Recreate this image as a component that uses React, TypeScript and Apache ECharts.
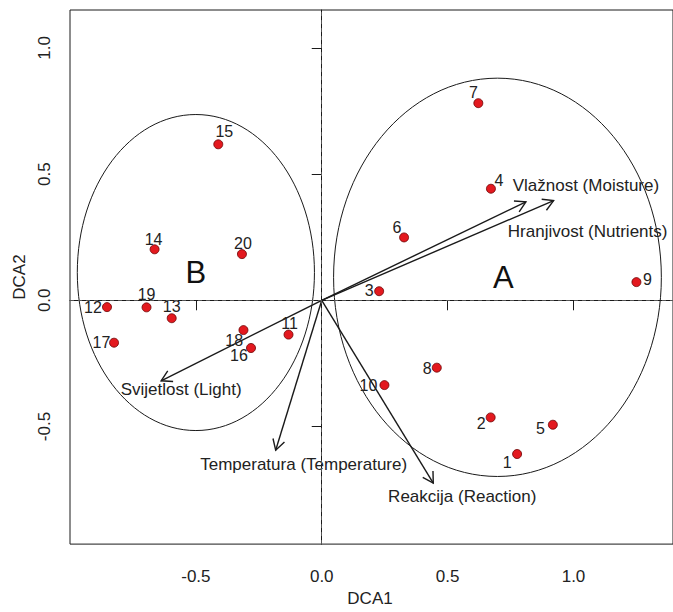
import React, { useEffect, useRef } from "react";
import * as echarts from "echarts";

// Site scores (DCA axes 1 and 2)
const sites = ["1", "2", "3", "4", "5", "6", "7", "8", "9", "10", "11", "12", "13", "14", "15", "16", "17", "18", "19", "20"];
const dca1 = [0.776, 0.671, 0.228, 0.672, 0.918, 0.327, 0.622, 0.457, 1.25, 0.249, -0.132, -0.853, -0.596, -0.664, -0.411, -0.281, -0.825, -0.311, -0.696, -0.317];
const dca2 = [-0.609, -0.464, 0.036, 0.442, -0.493, 0.249, 0.781, -0.267, 0.072, -0.336, -0.136, -0.027, -0.071, 0.202, 0.618, -0.189, -0.168, -0.118, -0.028, 0.183];

// Environmental vectors
const envNames = ["Vlažnost (Moisture)", "Hranjivost (Nutrients)", "Reakcija (Reaction)", "Temperatura (Temperature)", "Svijetlost (Light)"];
const envX = [0.811, 0.921, 0.443, -0.183, -0.638];
const envY = [0.39, 0.395, -0.724, -0.594, -0.319];

// Groups (ellipses)
const groups = ["A", "B"];
const groupCx = [0.698, -0.5];
const groupCy = [0.091, 0.11];
const groupRx = [0.651, 0.471];
const groupRy = [0.789, 0.626];

// Tick labels
const xTicks = [-0.5, 0, 0.5, 1.0];
const yTicks = [-0.5, 0, 0.5, 1.0];

// Layout (pixel offsets of labels)
const siteLabelOffsets: number[][] = [
  [-10, 8], [-9.5, 6], [-10, -1], [8, -8], [-12.5, 4], [-7, -10], [-5, -11], [-9.5, 0.5], [11, -3], [-16, 0.7],
  [1, -11], [-14, 0], [0, -11.7], [-1, -10], [6, -13], [-12, 7.6], [-12.6, 0], [-9.3, 10.6], [0, -12.4], [1, -11],
];
const envLabelOffsets: number[][] = [[60, -16], [34, 31], [29, 13], [28, 14], [20, 9]];
const groupLetterOffsets: number[][] = [[6, 0], [0, 0]];

const FONT = "'Liberation Sans', Arial, Helvetica, sans-serif";
const INK = "#1a1a1a";
const GRID_W = 606;

export default function App() {
  const ref = useRef<HTMLDivElement>(null);
  useEffect(() => {
    if (!ref.current) return;
    const chart = echarts.init(ref.current, undefined, { renderer: "svg" });
    const fmt = (v: number) => v.toFixed(1);
    const option: any = {
      animation: false,
      backgroundColor: "#ffffff",
      textStyle: { fontFamily: FONT },
      grid: { left: 70, top: 10, width: GRID_W, height: 540, show: true, borderColor: INK, borderWidth: 1, backgroundColor: "transparent" },
      xAxis: {
        type: "value",
        min: -1.0,
        max: -1.0 + GRID_W / 253,
        name: "DCA1",
        nameLocation: "middle",
        nameGap: 44,
        nameTextStyle: { fontSize: 17, color: "#222", fontFamily: FONT, padding: [0, 3, 0, 0] },
        axisLine: { show: true, lineStyle: { color: INK, width: 1 } },
        axisTick: { show: true, length: 10, inside: false, customValues: xTicks, lineStyle: { color: INK } },
        axisLabel: { show: true, customValues: xTicks, formatter: fmt, fontSize: 17, color: "#222", margin: 24, fontFamily: FONT },
        splitLine: { show: false },
      },
      yAxis: {
        type: "value",
        min: -(550 - 303.5) / 255.2,
        max: (303.5 - 10) / 255.2,
        name: "DCA2",
        nameLocation: "middle",
        nameGap: 35,
        nameTextStyle: { fontSize: 17, color: "#222", fontFamily: FONT },
        axisLine: { show: true, lineStyle: { color: INK, width: 1 } },
        axisTick: { show: true, length: 10, inside: false, customValues: yTicks, lineStyle: { color: INK } },
        axisLabel: { show: true, customValues: yTicks, formatter: fmt, fontSize: 17, color: "#222", margin: 17, rotate: 90, fontFamily: FONT },
        splitLine: { show: false },
      },
      series: [
        {
          type: "custom",
          name: "groups",
          z: 1,
          silent: true,
          data: groups.map((g, i) => [groupCx[i], groupCy[i], groupRx[i], groupRy[i], i]),
          renderItem: (params: any, api: any) => {
            const c = api.coord([api.value(0), api.value(1)]);
            const s = api.size([api.value(2), api.value(3)]);
            const idx = api.value(4);
            const off = groupLetterOffsets[idx];
            return {
              type: "group",
              children: [
                { type: "ellipse", shape: { cx: c[0], cy: c[1], rx: s[0], ry: s[1] }, style: { fill: "none", stroke: INK, lineWidth: 1 } },
                {
                  type: "text",
                  x: c[0] + off[0],
                  y: c[1] + off[1],
                  style: { text: groups[idx], fill: "#111", fontSize: 31, fontFamily: FONT, align: "center", verticalAlign: "middle" },
                },
              ],
            };
          },
        },
        {
          type: "custom",
          name: "vectors",
          z: 3,
          silent: true,
          data: envX.map((x, i) => [x, envY[i], i]),
          renderItem: (params: any, api: any) => {
            const o = api.coord([0, 0]);
            const e = api.coord([api.value(0), api.value(1)]);
            const idx = api.value(2);
            const off = envLabelOffsets[idx];
            const ang = Math.atan2(e[1] - o[1], e[0] - o[0]);
            const L = 12;
            const a = Math.PI / 6;
            const p1 = [e[0] - L * Math.cos(ang - a), e[1] - L * Math.sin(ang - a)];
            const p2 = [e[0] - L * Math.cos(ang + a), e[1] - L * Math.sin(ang + a)];
            return {
              type: "group",
              children: [
                { type: "line", shape: { x1: o[0], y1: o[1], x2: e[0], y2: e[1] }, style: { stroke: INK, lineWidth: 1.4 } },
                { type: "polyline", shape: { points: [p1, e, p2] }, style: { stroke: INK, lineWidth: 1.4, fill: null } },
                {
                  type: "text",
                  x: e[0] + off[0],
                  y: e[1] + off[1],
                  style: { text: envNames[idx], fill: "#222", fontSize: 17, fontFamily: FONT, align: "center", verticalAlign: "middle" },
                },
              ],
            };
          },
        },
        {
          type: "scatter",
          name: "sites",
          z: 4,
          symbol: "circle",
          symbolSize: 9,
          itemStyle: { color: "#e3191f", borderColor: "#6b0000", borderWidth: 0.8, opacity: 1 },
          label: {
            show: true,
            position: "inside",
            formatter: "{b}",
            color: "#222",
            fontSize: 16,
            fontFamily: FONT,
            align: "center",
            verticalAlign: "middle",
          },
          data: sites.map((s, i) => ({ name: s, value: [dca1[i], dca2[i]], label: { offset: siteLabelOffsets[i] } })),
          markLine: {
            silent: true,
            symbol: ["none", "none"],
            label: { show: false },
            lineStyle: { type: [4, 4], color: "#555", width: 1 },
            data: [{ xAxis: 0 }, { yAxis: 0 }],
          },
        },
      ],
    };
    chart.setOption(option);
    return () => chart.dispose();
  }, []);
  return (
    <div style={{ position: "fixed", left: 0, top: 0, width: 673, height: 612, overflow: "hidden", background: "#fff" }}>
      <div ref={ref} style={{ width: 673, height: 612 }} />
    </div>
  );
}
